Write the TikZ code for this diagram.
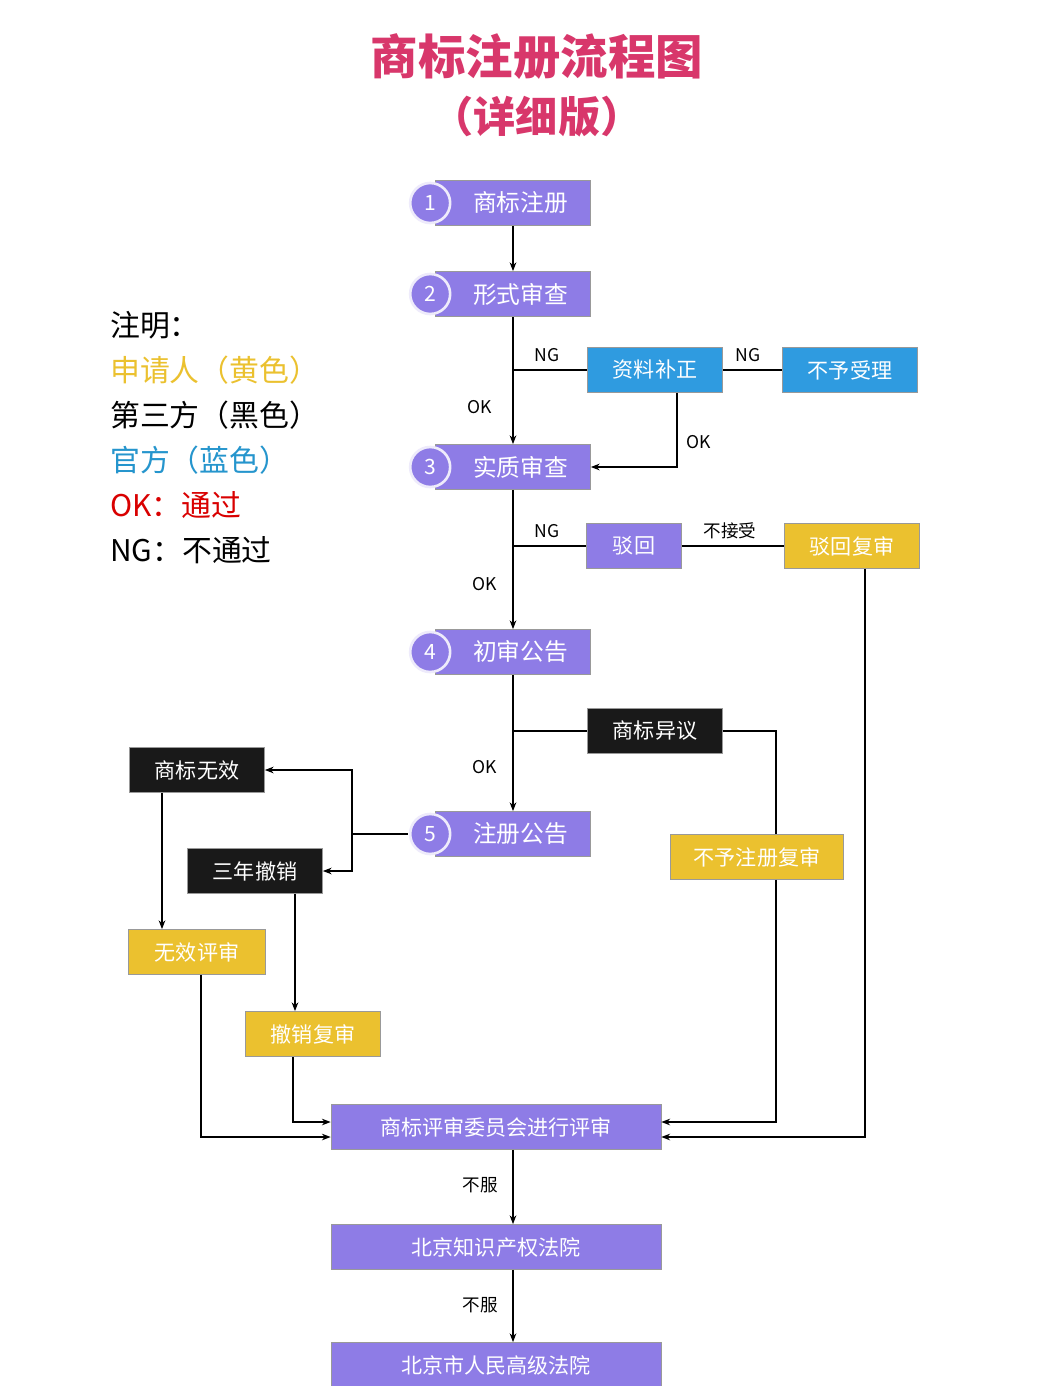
\documentclass[tikz,border=0pt]{standalone}
\usepackage{fontspec}
\setmainfont{Noto Sans CJK SC}
\usetikzlibrary{positioning,arrows.meta}
\definecolor{stepc}{HTML}{8E7CE6}
\definecolor{offc}{HTML}{2F9BE0}
\definecolor{appc}{HTML}{EBC12F}
\definecolor{titlec}{HTML}{D8376B}
\tikzset{
  box/.style={draw=black!40, minimum height=0.9cm, text=white, font=\fontsize{12}{14}\selectfont, inner sep=2pt},
  stepbox/.style={box, fill=stepc, minimum width=3.1cm, text width=2.2cm, align=right, font=\fontsize{13.5}{15}\selectfont},
  numc/.style={circle, draw=white!85!stepc, line width=1.5pt, fill=stepc, minimum size=0.8cm, text=white, font=\fontsize{12}{14}\selectfont},
  offbox/.style={box, fill=offc},
  appbox/.style={box, fill=appc},
  thdbox/.style={box, fill=black!90},
  link/.style={line width=0.8pt},
  arr/.style={link, -{Stealth[length=5pt]}},
  lbl/.style={font=\fontsize{10}{12}\selectfont}
}
\begin{document}
\begin{tikzpicture}[x=0.02cm,y=-0.02cm]
\useasboundingbox[fill=white] (0,0) rectangle (1063,1386);
% title
\node[text=titlec, font=\bfseries\fontsize{27}{30}\selectfont] (title) at (537,57) {商标注册流程图};
\node[text=titlec, font=\bfseries\fontsize{24}{28}\selectfont] (subtitle) at (537,117) {（详细版）};
% legend
\begin{scope}[every node/.style={anchor=west, font=\fontsize{17}{20}\selectfont}]
\node (lg0) at (104,325) {注明：};
\node[text=appc] (lg1) at (104,370) {申请人（黄色）};
\node (lg2) at (104,415) {第三方（黑色）};
\node[text=offc!80!teal] (lg3) at (104,460) {官方（蓝色）};
\node[text=red!85!black] (lg4) at (104,505) {OK：通过};
\node (lg5) at (104,550) {NG：不通过};
\end{scope}
% main steps
\node[stepbox] (reg) at (513,203) {商标注册};
\node[stepbox] (form) at (513,294) {形式审查};
\node[stepbox] (subst) at (513,467) {实质审查};
\node[stepbox] (prelim) at (513,652) {初审公告};
\node[stepbox] (publ) at (513,834) {注册公告};
\foreach \s/\n in {reg/1, form/2, subst/3, prelim/4, publ/5}
  \node[numc] at ([xshift=-0.1cm]\s.west) {\n};
% side boxes
\node[offbox, minimum width=2.7cm] (supp) at (655,370) {资料补正};
\node[offbox, minimum width=2.7cm] (reject) at (850,370) {不予受理};
\node[box, fill=stepc, minimum width=1.9cm] (refuse) at (634,546) {驳回};
\node[appbox, minimum width=2.7cm] (refrev) at (852,546) {驳回复审};
\node[thdbox, minimum width=2.7cm] (oppo) at (655,731) {商标异议};
\node[appbox, minimum width=3.45cm] (nonreg) at (757,857) {不予注册复审};
\node[thdbox, minimum width=2.7cm] (invalid) at (197,770) {商标无效};
\node[thdbox, minimum width=2.7cm] (revoke) at (255,871) {三年撤销};
\node[appbox, minimum width=2.75cm] (invrev) at (197,952) {无效评审};
\node[appbox, minimum width=2.7cm] (revrev) at (313,1034) {撤销复审};
\node[box, fill=stepc, minimum width=6.6cm] (board) at (496,1127) {商标评审委员会进行评审};
\node[box, fill=stepc, minimum width=6.6cm] (ipcourt) at (496,1247) {北京知识产权法院};
\node[box, fill=stepc, minimum width=6.6cm] (highcourt) at (496,1365) {北京市人民高级法院};
% connectors
\draw[arr] (reg) -- (form);
\draw[arr] (form) -- (subst);
\draw[link] (513,370) -- (supp.west);
\node[lbl] at (547,355) {NG};
\node[lbl] at (480,407) {OK};
\draw[link] (supp) -- (reject);
\node[lbl] at (748,355) {NG};
\draw[arr] (supp.south -| 677,0) |- (subst.east);
\node[lbl] at (699,442) {OK};
\draw[arr] (subst) -- (prelim);
\draw[link] (513,546) -- (refuse.west);
\node[lbl] at (547,531) {NG};
\node[lbl] at (485,584) {OK};
\draw[link] (refuse) -- (refrev);
\node[lbl] at (730,531) {不接受};
\draw[arr] (refrev.south -| 865,0) |- ([yshift=-0.2cm]board.east);
\draw[arr] (prelim) -- (publ);
\draw[link] (513,731) -- (oppo.west);
\node[lbl] at (485,767) {OK};
\draw[link] (oppo.east) -| (nonreg.north -| 776,0);
\draw[arr] (nonreg.south -| 776,0) |- ([yshift=0.1cm]board.east);
\coordinate (split) at (352,834);
\draw[link] (publ.west) ++(-0.55cm,0) -- (split);
\draw[arr] (split) |- (invalid.east);
\draw[arr] (split) |- (revoke.east);
\draw[arr] (invalid.south -| 162,0) -- (invrev.north -| 162,0);
\draw[arr] (revoke.south -| 295,0) -- (revrev.north -| 295,0);
\draw[arr] (invrev.south -| 201,0) |- ([yshift=-0.2cm]board.west);
\draw[arr] (revrev.south -| 293,0) |- ([yshift=0.1cm]board.west);
\draw[arr] (board.south -| 513,0) -- (ipcourt.north -| 513,0);
\node[lbl] at (480,1185) {不服};
\draw[arr] (ipcourt.south -| 513,0) -- (highcourt.north -| 513,0);
\node[lbl] at (480,1305) {不服};
\end{tikzpicture}
\end{document}
